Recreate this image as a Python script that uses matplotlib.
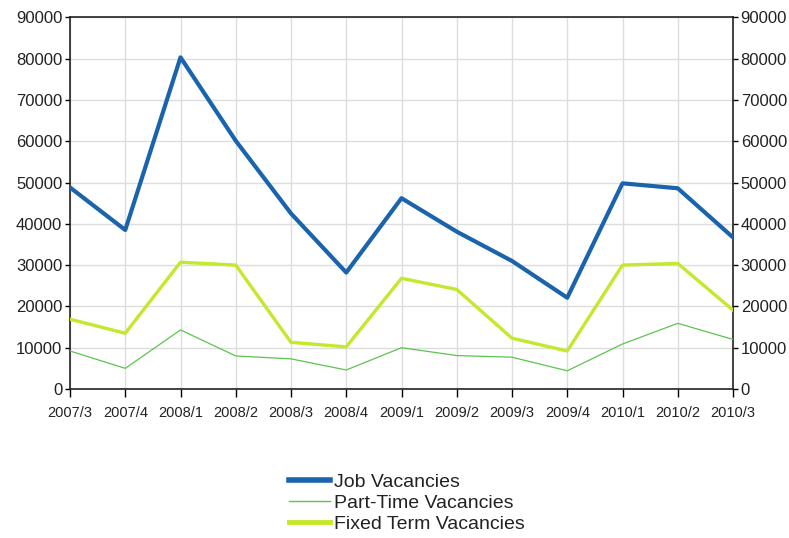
import matplotlib
matplotlib.use("Agg")
import matplotlib.pyplot as plt

quarters = ["2007/3", "2007/4", "2008/1", "2008/2", "2008/3", "2008/4", "2009/1",
            "2009/2", "2009/3", "2009/4", "2010/1", "2010/2", "2010/3"]
job = [48800, 38500, 80300, 60100, 42500, 28200, 46200, 38100, 31000, 22100, 49800, 48600, 36700]
part_time = [9200, 5000, 14300, 8000, 7300, 4600, 10000, 8100, 7700, 4400, 10900, 15900, 12000]
fixed_term = [16900, 13500, 30700, 30000, 11300, 10200, 26800, 24100, 12300, 9200, 30000, 30400, 19100]
y_ticks = [0, 10000, 20000, 30000, 40000, 50000, 60000, 70000, 80000, 90000]

plt.rcParams['font.family'] = ['Liberation Sans', 'DejaVu Sans']

fig = plt.figure(figsize=(7.89, 5.38), dpi=100)
ax = fig.add_axes([70/789, 1-389/538, (733-70)/789, (389-17.3)/538])

x = list(range(len(quarters)))
ax.plot(x, job, color="#1a64ad", lw=3.0, label="Job Vacancies", zorder=3)
ax.plot(x, part_time, color="#5cc44e", lw=0.9, label="Part-Time Vacancies", zorder=3)
ax.plot(x, fixed_term, color="#c3e82c", lw=2.4, label="Fixed Term Vacancies", zorder=3)

ax.set_xlim(0, len(quarters)-1)
ax.set_ylim(0, 90000)
ax.set_xticks(x)
ax.set_xticklabels(quarters, fontsize=10.5, color="#222222")
ax.set_yticks(y_ticks)
ax.set_yticklabels([str(v) for v in y_ticks], fontsize=12, color="#222222")
ax.tick_params(axis='y', which='both', direction='out', length=3.5, left=True, right=True,
               labelleft=True, labelright=True, pad=2, width=1)
ax.tick_params(axis='x', direction='out', length=6, pad=6, width=1)
ax.grid(True, color="#dddddd", lw=1)
ax.set_axisbelow(True)
for s in ax.spines.values():
    s.set_color("#222222")
    s.set_linewidth(1.2)

handles, labels = ax.get_legend_handles_labels()
leg = fig.legend(handles, labels, loc="center", bbox_to_anchor=(407/789, 1-503/538),
                 frameon=False, fontsize=14, handlelength=2.1, handletextpad=0.25,
                 labelspacing=0.17, borderpad=0)
leg.get_lines()[0].set_linewidth(4)
leg.get_lines()[1].set_linewidth(1)
leg.get_lines()[2].set_linewidth(3.5)
for t in leg.get_texts():
    t.set_color("#222222")

fig.savefig("out.png", dpi=100)
